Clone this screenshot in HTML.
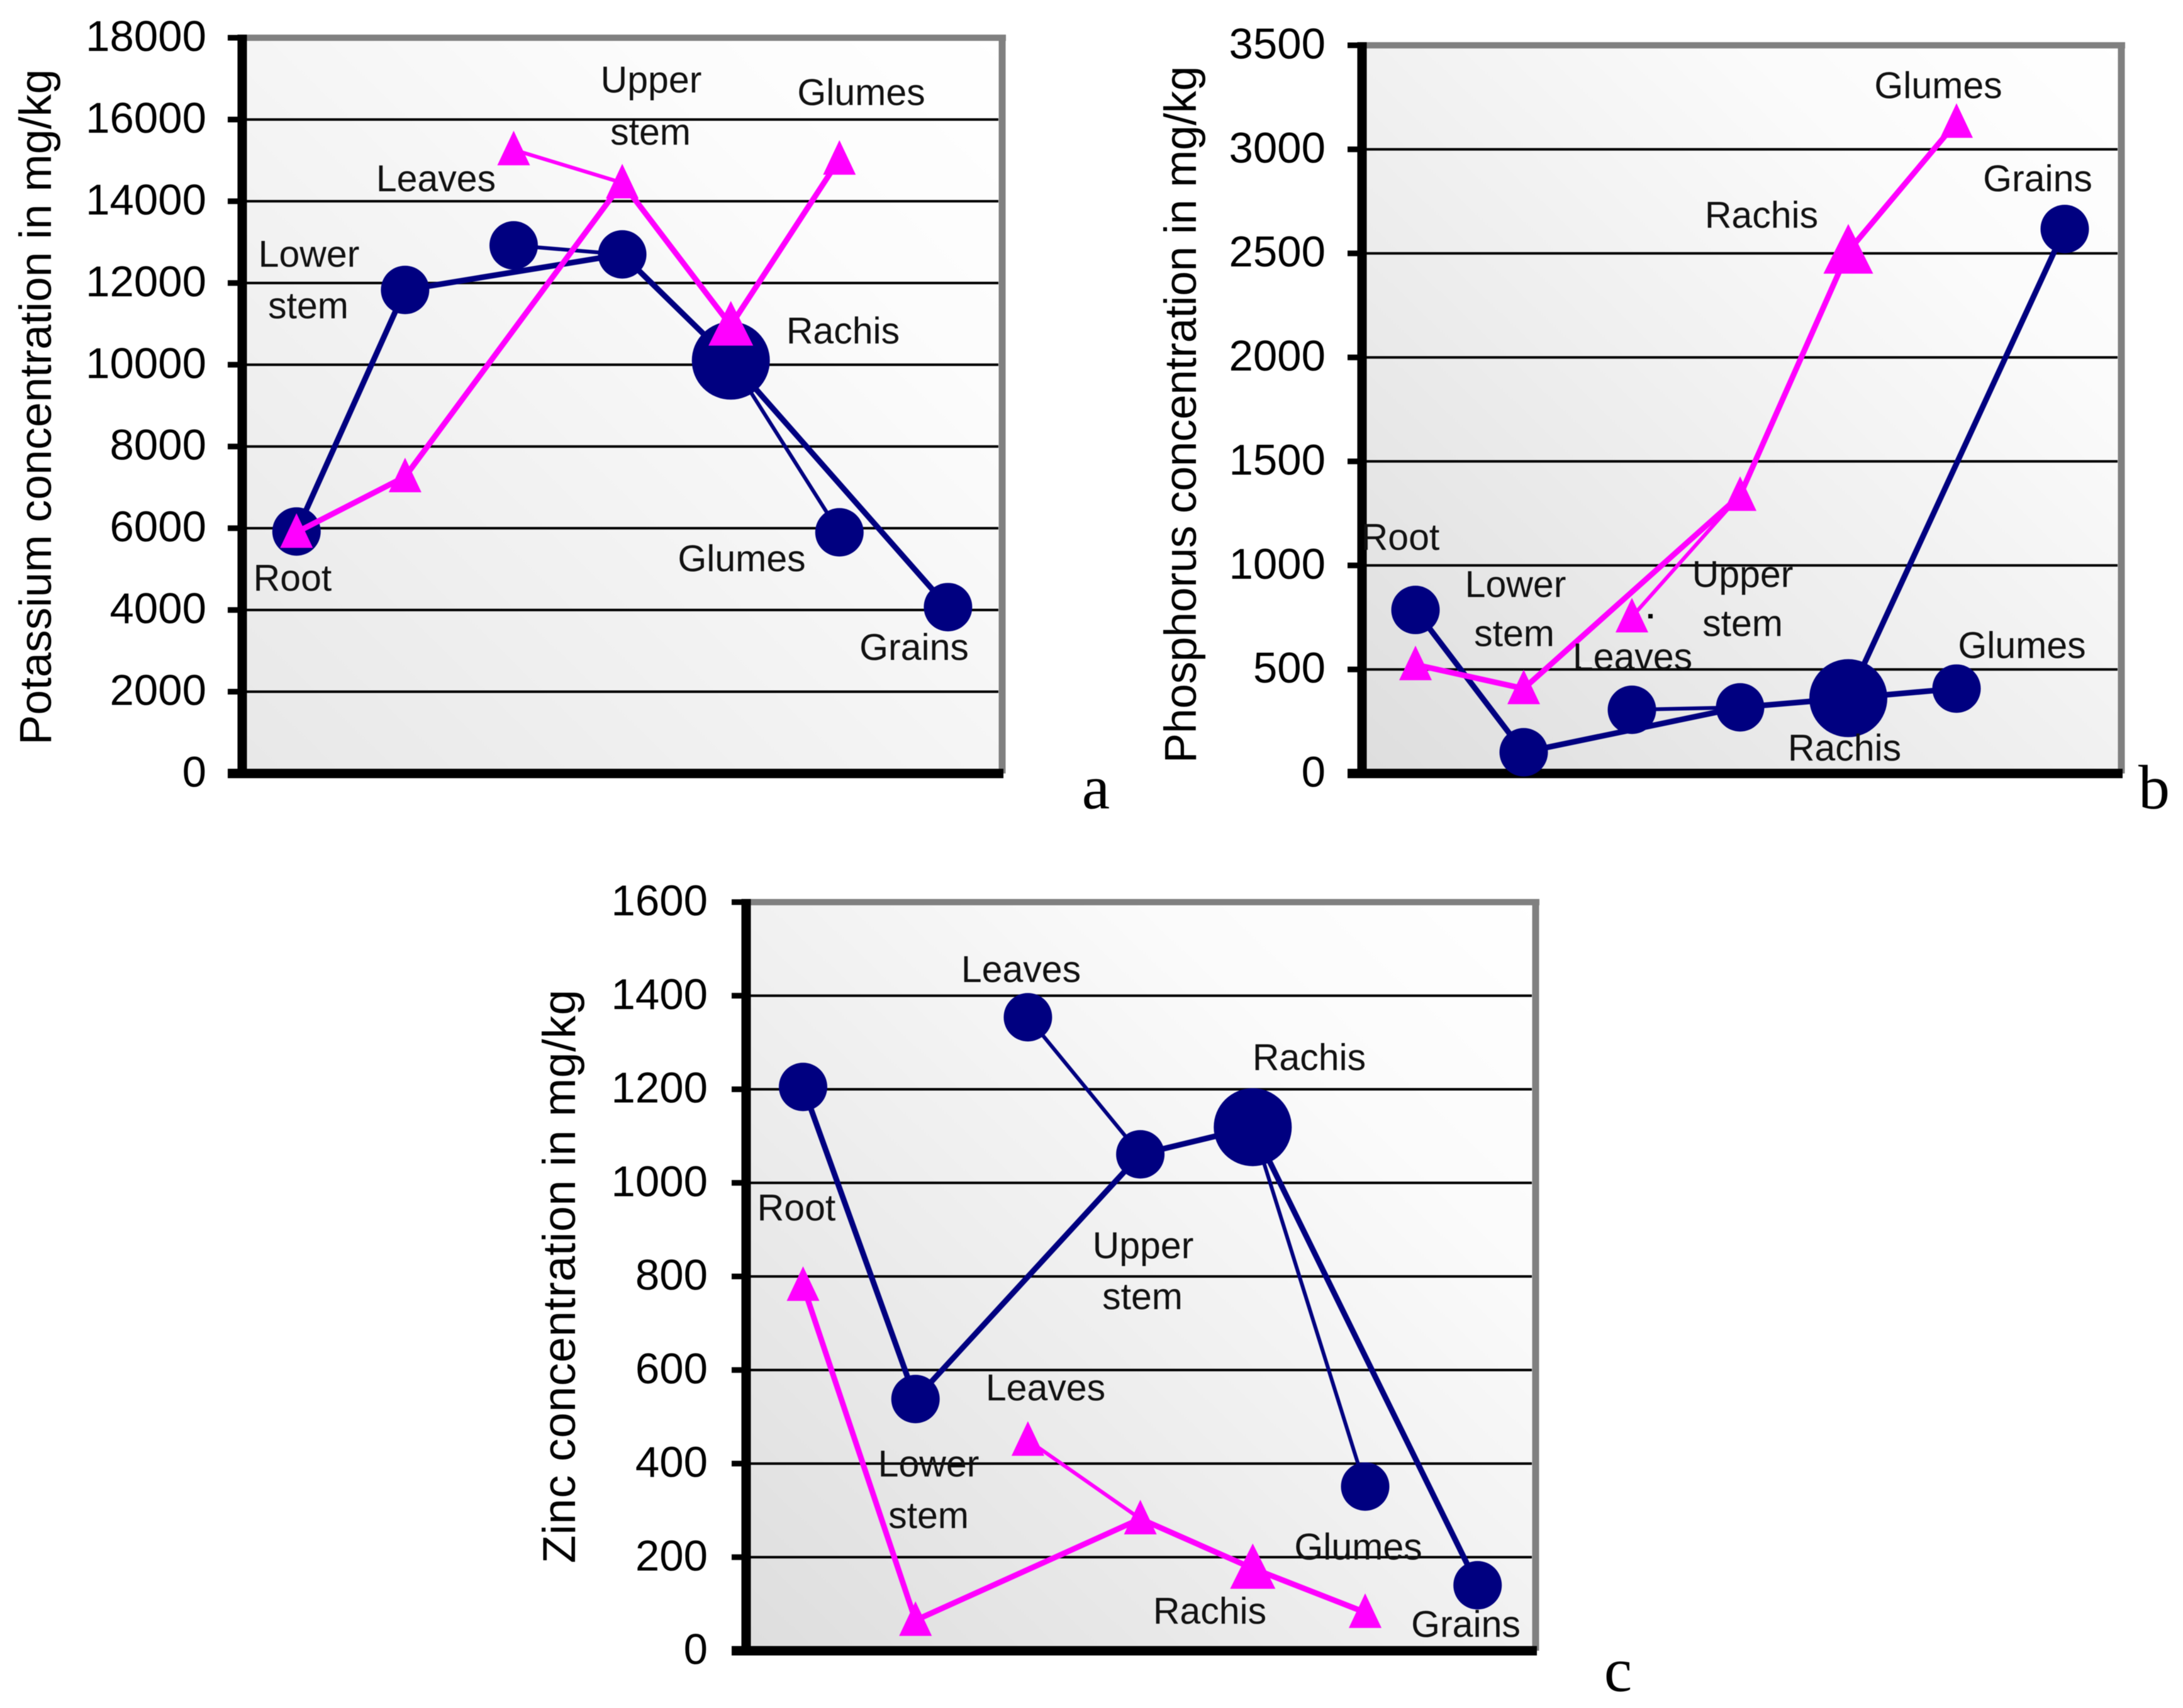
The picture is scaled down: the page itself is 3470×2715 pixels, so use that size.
<!DOCTYPE html>
<html lang="en">
<head>
<meta charset="utf-8">
<title>Nutrient concentrations in plant parts</title>
<style>
html,body{margin:0;padding:0;background:#fff;}
svg{display:block;width:3470px;height:2715px;filter:blur(0.6px);}
text{font-family:"Liberation Sans",Arial,sans-serif;fill:#000;}
.lbl{font-size:59px;text-anchor:middle;fill:#111;}
.tick{font-size:69px;text-anchor:end;}
.title{font-size:71px;text-anchor:middle;}
.panel{font-family:"Liberation Serif","Times New Roman",serif;font-size:100px;text-anchor:middle;}
</style>
</head>
<body>
<svg id="figure" xmlns="http://www.w3.org/2000/svg" width="3470" height="2715" viewBox="0 0 3470 2715">
<defs>
<linearGradient id="plotFill" x1="0" y1="1" x2="1" y2="0">
<stop offset="0" stop-color="#dedede"/>
<stop offset="0.75" stop-color="#fbfbfb"/>
<stop offset="1" stop-color="#ffffff"/>
</linearGradient>
<linearGradient id="plotFillLight" x1="0" y1="1" x2="1" y2="0">
<stop offset="0" stop-color="#e8e8e8"/>
<stop offset="0.75" stop-color="#fcfcfc"/>
<stop offset="1" stop-color="#ffffff"/>
</linearGradient>
</defs>
<rect x="0" y="0" width="3470" height="2715" fill="#fff"/>

<g id="chart-a">
<g id="marks-a"></g>
<text class="title" transform="translate(81,647) rotate(-90)" textLength="1074" lengthAdjust="spacing">Potassium concentration in mg/kg</text>
<text class="lbl" x="1035" y="147">Upper</text>
<text class="lbl" x="1034" y="230">stem</text>
<text class="lbl" x="693" y="304">Leaves</text>
<text class="lbl" x="1369" y="167">Glumes</text>
<text class="lbl" x="491" y="424">Lower</text>
<text class="lbl" x="490" y="506">stem</text>
<text class="lbl" x="1340" y="546">Rachis</text>
<text class="lbl" x="1179" y="908">Glumes</text>
<text class="lbl" x="465" y="939">Root</text>
<text class="lbl" x="1453" y="1049">Grains</text>
<text class="panel" x="1742" y="1285">a</text>
</g>

<g id="chart-b">
<g id="marks-b"></g>
<text class="title" transform="translate(1901,659) rotate(-90)" textLength="1108" lengthAdjust="spacing">Phosphorus  concentration in mg/kg</text>
<text class="lbl" x="3081" y="156">Glumes</text>
<text class="lbl" x="3239" y="304">Grains</text>
<text class="lbl" x="2800" y="362">Rachis</text>
<text class="lbl" x="2226" y="874">Root</text>
<text class="lbl" x="2409" y="949">Lower</text>
<text class="lbl" x="2407" y="1027">stem</text>
<text class="lbl" x="2770" y="933">Upper</text>
<text class="lbl" x="2770" y="1011">stem</text>
<text class="lbl" x="2595" y="1064">Leaves</text>
<rect x="2513" y="1052" width="18" height="9" fill="#ebebeb"/>
<text class="lbl" x="3214" y="1046">Glumes</text>
<text class="lbl" x="2932" y="1209">Rachis</text>
<rect x="2620" y="976" width="7" height="7" fill="#000"/>
<text class="panel" x="3424" y="1285">b</text>
</g>

<g id="chart-c">
<g id="marks-c"></g>
<text class="title" style="font-size:73px" transform="translate(914,2029) rotate(-90)" textLength="912" lengthAdjust="spacing">Zinc concentration in mg/kg</text>
<text class="lbl" x="1623" y="1561">Leaves</text>
<text class="lbl" x="2081" y="1701">Rachis</text>
<text class="lbl" x="1266" y="1940">Root</text>
<text class="lbl" x="1817" y="2000">Upper</text>
<text class="lbl" x="1816" y="2081">stem</text>
<text class="lbl" x="1662" y="2226">Leaves</text>
<text class="lbl" x="1476" y="2347">Lower</text>
<text class="lbl" x="1476" y="2429">stem</text>
<text class="lbl" x="2159" y="2479">Glumes</text>
<text class="lbl" x="1923" y="2581">Rachis</text>
<text class="lbl" x="2330" y="2602">Grains</text>
<text class="panel" x="2572" y="2688">c</text>
</g>
</svg>

<script>
// Plant parts shared by all three charts (x-axis categories)
const categories = ["root", "lower-stem", "leaves", "upper-stem", "rachis", "glumes", "grains"];

// Chart a: potassium (mg/kg)
const potassiumTicks = [0, 2000, 4000, 6000, 8000, 10000, 12000, 14000, 16000, 18000];
const potassiumNavy = [5920, 11830, 12920, 12700, 10100, 5900, 4070];
const potassiumMagenta = [5900, 7260, 15260, 14450, 10960, 15030, null];

// Chart b: phosphorus (mg/kg)
const phosphorusTicks = [0, 500, 1000, 1500, 2000, 2500, 3000, 3500];
const phosphorusNavy = [786, 102, 306, 318, 362, 408, 2617];
const phosphorusMagenta = [523, 408, 753, 1337, 2510, 3130, null];

// Chart c: zinc (mg/kg)
const zincTicks = [0, 200, 400, 600, 800, 1000, 1200, 1400, 1600];
const zincNavy = [1205, 538, 1354, 1061, 1119, 351, 140];
const zincMagenta = [781, 65, 450, 282, 176, 82, null];

const NS = "http://www.w3.org/2000/svg";
const NAVY = "#000080";
const MAGENTA = "#ff00ff";

function shape(parent, tag, attrs) {
  const el = document.createElementNS(NS, tag);
  for (const k in attrs) el.setAttribute(k, attrs[k]);
  parent.appendChild(el);
  return el;
}

function drawChart(cfg) {
  const g = document.getElementById(cfg.id);
  const L = cfg.left, R = cfg.right, T = cfg.top, B = cfg.bottom;
  const maxTick = cfg.ticks[cfg.ticks.length - 1];
  const xScale = i => cfg.firstX + i * cfg.stepX;
  const yScale = v => B - (v / maxTick) * (B - T);

  const plotBg = shape(g, "rect", {x: L, y: T, width: R - L, height: B - T, fill: cfg.fill});
  
  

  cfg.ticks.forEach(function (t) {
    const y = yScale(t);
    if (t !== 0 && t !== maxTick) {
      const grid = shape(g, "line", {x1: L, x2: R - 6, y1: y, y2: y, stroke: "#000", "stroke-width": 4});
      
      
    }
    const mark = shape(g, "line", {x1: L - 23, x2: L, y1: y, y2: y, stroke: "#000", "stroke-width": 9});
    
    
    const label = shape(g, "text", {x: cfg.tickX, y: y + 21, class: "tick"});
    label.textContent = String(t);
    
    
  });

  const topBorder = shape(g, "line", {x1: L, x2: R + 6, y1: T, y2: T, stroke: "#808080", "stroke-width": 10});
  
  
  const rightBorder = shape(g, "line", {x1: R, x2: R, y1: T, y2: B, stroke: "#808080", "stroke-width": 11});
  
  
  const yAxis = shape(g, "line", {x1: L, x2: L, y1: T - 5, y2: B, stroke: "#000", "stroke-width": 15});
  
  
  const xAxis = shape(g, "line", {x1: L - 23, x2: R + 2, y1: B, y2: B, stroke: "#000", "stroke-width": 15});
  
  

  cfg.navyLinks.forEach(function (link) {
    const seg = shape(g, "line", {
      x1: xScale(link[0]), y1: yScale(cfg.navy[link[0]]),
      x2: xScale(link[1]), y2: yScale(cfg.navy[link[1]]),
      stroke: NAVY, "stroke-width": link[2] ? 6 : 9
    });
    
    
  });
  cfg.navy.forEach(function (v, i) {
    const dot = shape(g, "circle", {cx: xScale(i), cy: yScale(v), r: categories[i] === "rachis" ? 62 : 38.5, fill: NAVY});
    
    
  });

  cfg.magentaLinks.forEach(function (link) {
    const seg = shape(g, "line", {
      x1: xScale(link[0]), y1: yScale(cfg.magenta[link[0]]),
      x2: xScale(link[1]), y2: yScale(cfg.magenta[link[1]]),
      stroke: MAGENTA, "stroke-width": link[2] ? 6 : 9
    });
    
    
  });
  cfg.magenta.forEach(function (v, i) {
    if (v === null) return;
    const cx = xScale(i), cy = yScale(v);
    const big = categories[i] === "rachis";
    const h = big ? cfg.bigTriangle : 55;
    const halfW = big ? cfg.bigTriangle / 2 : 26;
    const tri = shape(g, "polygon", {
      points: cx + "," + (cy - 0.55 * h) + " " + (cx + halfW) + "," + (cy + 0.45 * h) + " " + (cx - halfW) + "," + (cy + 0.45 * h),
      fill: MAGENTA
    });
    
    
  });
}

drawChart({
  id: "marks-a", left: 385, right: 1593, top: 60, bottom: 1229.5, tickX: 328,
  firstX: 471.3, stepX: 172.6,
  fill: "url(#plotFillLight)", bigTriangle: 71,
  ticks: potassiumTicks, navy: potassiumNavy, magenta: potassiumMagenta,
  navyLinks: [[0,1],[1,3],[2,3,1],[3,4],[4,5,1],[4,6]],
  magentaLinks: [[0,1],[1,3],[2,3,1],[3,4],[4,5]]
});
drawChart({
  id: "marks-b", left: 2165, right: 3372, top: 72, bottom: 1229.5, tickX: 2107,
  firstX: 2250, stepX: 172,
  fill: "url(#plotFill)", bigTriangle: 79,
  ticks: phosphorusTicks, navy: phosphorusNavy, magenta: phosphorusMagenta,
  navyLinks: [[0,1],[1,3],[2,3,1],[3,4],[4,5],[4,6]],
  magentaLinks: [[0,1],[1,3],[2,3,1],[3,4],[4,5]]
});
drawChart({
  id: "marks-c", left: 1186, right: 2441, top: 1434, bottom: 2624, tickX: 1125,
  firstX: 1276.5, stepX: 178.7,
  fill: "url(#plotFill)", bigTriangle: 72,
  ticks: zincTicks, navy: zincNavy, magenta: zincMagenta,
  navyLinks: [[0,1],[1,3],[2,3,1],[3,4],[4,5,1],[4,6]],
  magentaLinks: [[0,1],[1,3],[2,3,1],[3,4],[4,5]]
});
</script>
</body>
</html>
